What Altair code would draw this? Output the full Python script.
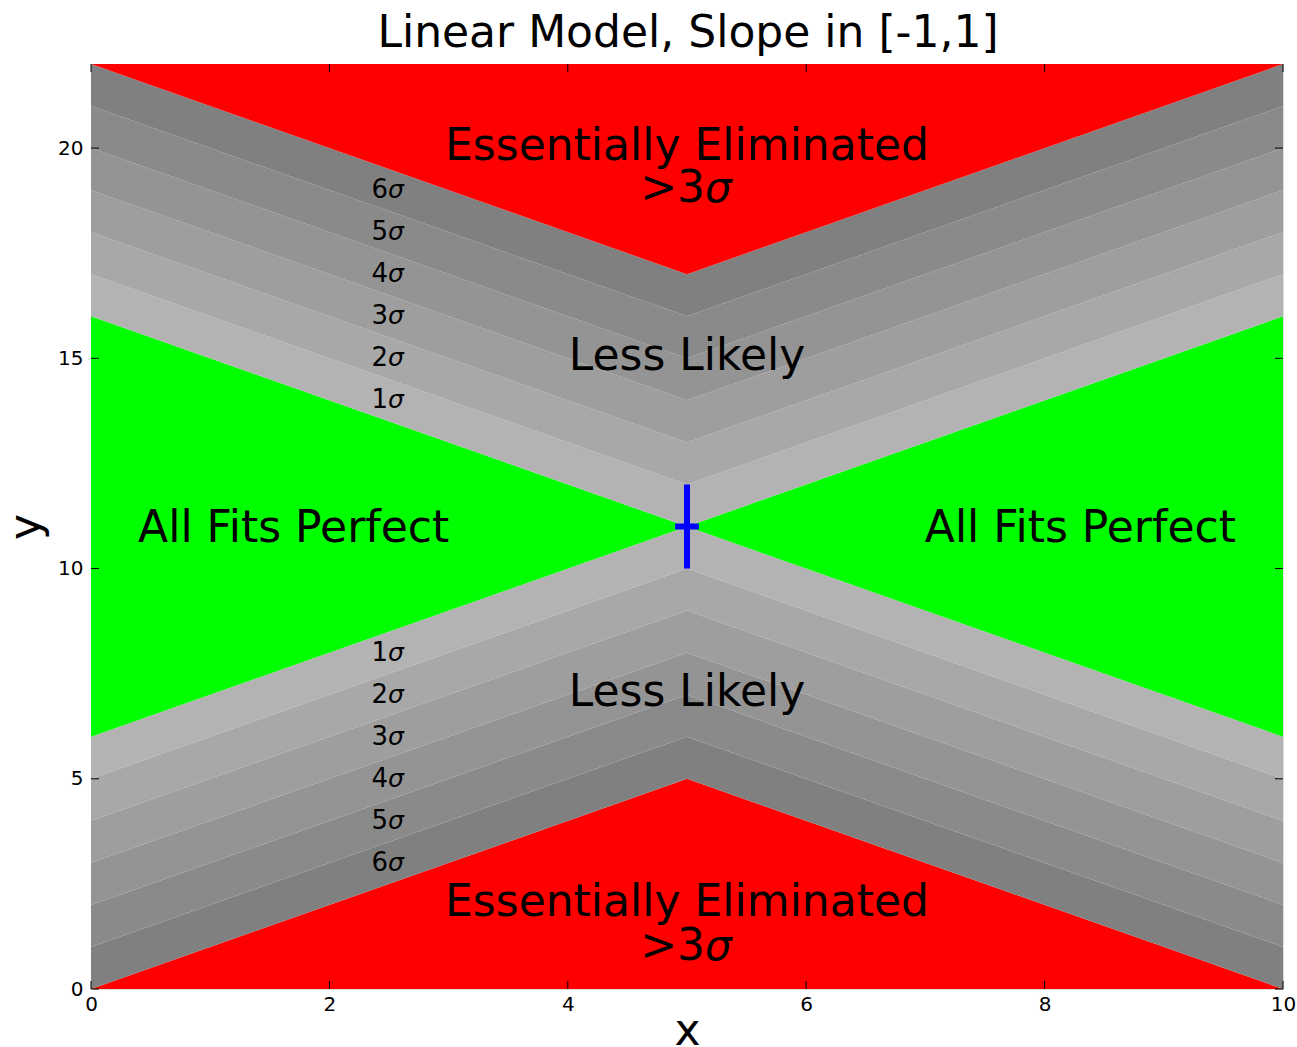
import altair as alt
import pandas as pd

# ---- data -------------------------------------------------------------
title_text = "Linear Model, Slope in [-1,1]"
x_pts = [0, 5, 10]
region_names = ["red_bot", "low6", "low5", "low4", "low3", "low2", "low1", "green",
                "up1", "up2", "up3", "up4", "up5", "up6", "red_top"]
region_colors = ["#ff0000", "#808080", "#8a8a8a", "#949494", "#9e9e9e", "#a8a8a8", "#b3b3b3",
                 "#00ff00",
                 "#b3b3b3", "#a8a8a8", "#9e9e9e", "#949494", "#8a8a8a", "#808080", "#ff0000"]
# region boundaries at x = 0, 5, 10
bounds_x0 = [0, 0, 1, 2, 3, 4, 5, 6, 16, 17, 18, 19, 20, 21, 22, 22]
bounds_x5 = [0, 5, 6, 7, 8, 9, 10, 11, 11, 12, 13, 14, 15, 16, 17, 22]
bounds_x10 = [0, 0, 1, 2, 3, 4, 5, 6, 16, 17, 18, 19, 20, 21, 22, 22]

main_texts = ["Essentially Eliminated", "Less Likely", "All Fits Perfect",
              "All Fits Perfect", "Less Likely", "Essentially Eliminated"]
main_x = [5, 5, 1.7, 8.3, 5, 5]
main_y = [19.71, 14.72, 10.63, 10.63, 6.72, 1.74]

gt_y = [18.72, 0.69]          # ">3σ" rows
sig_nums = ["6", "5", "4", "3", "2", "1", "1", "2", "3", "4", "5", "6"]
sig_y = [19, 18, 17, 16, 15, 14, 8, 7, 6, 5, 4, 3]
sig_x = 2.5

point_x = [5]
point_y = [11]
err_x = [0.1]
err_y = [1]

x_ticks = [0, 2, 4, 6, 8, 10]
y_ticks = [0, 5, 10, 15, 20]

# ---- tables -----------------------------------------------------------
rows = []
bounds = [bounds_x0, bounds_x5, bounds_x10]
for i, name in enumerate(region_names):
    for j, xv in enumerate(x_pts):
        rows.append({"region": name, "order": i, "x": xv,
                     "lo": bounds[j][i], "hi": bounds[j][i + 1]})
regions_df = pd.DataFrame(rows)

W, H = 1192, 925
FONT = "DejaVu Sans"

xs = alt.Scale(domain=[0, 10], nice=False, zero=False)
ys = alt.Scale(domain=[0, 22], nice=False, zero=False)

areas = alt.Chart(regions_df).mark_area(strokeWidth=0).encode(
    x=alt.X("x:Q", scale=xs,
            axis=alt.Axis(values=x_ticks, format="d", title="x", ticks=False, domain=False,
                          grid=False, labelFont=FONT, labelFontSize=20, labelColor="black",
                          labelPadding=5, labelFlush=False, labelOverlap=False,
                          titleFont=FONT, titleFontSize=44, titleFontWeight="normal",
                          titleColor="black", titleBaseline="alphabetic", titleY=55)),
    y=alt.Y("lo:Q", scale=ys, stack=None,
            axis=alt.Axis(values=y_ticks, format="d", title="y", ticks=False, domain=False,
                          grid=False, labelFont=FONT, labelFontSize=20, labelColor="black",
                          labelPadding=8, labelFlush=False, labelOverlap=False,
                          titleFont=FONT, titleFontSize=44, titleFontWeight="normal",
                          titleColor="black", titleBaseline="alphabetic", titleX=-52)),
    y2="hi:Q",
    color=alt.Color("region:N", scale=alt.Scale(domain=region_names, range=region_colors),
                    legend=None),
    detail="region:N",
)

title_df = pd.DataFrame({"t": [title_text]})
title_mark = alt.Chart(title_df).mark_text(font=FONT, fontSize=44, color="black",
                                           baseline="alphabetic", align="center").encode(
    x=alt.value(W / 2 + 1), y=alt.value(-17), text="t:N")

main_df = pd.DataFrame({"t": main_texts, "x": main_x, "y": main_y})
main_text = alt.Chart(main_df).mark_text(font=FONT, fontSize=44, color="black",
                                         baseline="alphabetic", align="center").encode(
    x=alt.X("x:Q", scale=xs), y=alt.Y("y:Q", scale=ys), text="t:N")

gt_df = pd.DataFrame({"x": [5] * len(gt_y), "y": gt_y, "t": [">3"] * len(gt_y),
                      "s": ["σ"] * len(gt_y)})
gt_text = alt.Chart(gt_df).mark_text(font=FONT, fontSize=44, color="black",
                                     baseline="alphabetic", align="right", dx=18).encode(
    x=alt.X("x:Q", scale=xs), y=alt.Y("y:Q", scale=ys), text="t:N")
gt_sig = alt.Chart(gt_df).mark_text(font=FONT, fontSize=42, color="black", fontStyle="italic",
                                    baseline="alphabetic", align="left", dx=18).encode(
    x=alt.X("x:Q", scale=xs), y=alt.Y("y:Q", scale=ys), text="s:N")

sig_df = pd.DataFrame({"x": [sig_x] * len(sig_y), "y": sig_y, "n": sig_nums,
                       "s": ["σ"] * len(sig_y)})
sig_num = alt.Chart(sig_df).mark_text(font=FONT, fontSize=26, color="black",
                                      baseline="middle", align="right", dx=-1).encode(
    x=alt.X("x:Q", scale=xs), y=alt.Y("y:Q", scale=ys), text="n:N")
sig_sym = alt.Chart(sig_df).mark_text(font=FONT, fontSize=25, color="black", fontStyle="italic",
                                      baseline="middle", align="left", dx=-1).encode(
    x=alt.X("x:Q", scale=xs), y=alt.Y("y:Q", scale=ys), text="s:N")

pt_df = pd.DataFrame({"x": point_x, "y": point_y, "ex": err_x, "ey": err_y})
pt_df["x_lo"] = pt_df["x"] - pt_df["ex"]
pt_df["x_hi"] = pt_df["x"] + pt_df["ex"]
pt_df["y_lo"] = pt_df["y"] - pt_df["ey"]
pt_df["y_hi"] = pt_df["y"] + pt_df["ey"]
err_v = alt.Chart(pt_df).mark_rule(color="#0000ff", strokeWidth=6).encode(
    x=alt.X("x:Q", scale=xs), y=alt.Y("y_lo:Q", scale=ys), y2="y_hi:Q")
err_h = alt.Chart(pt_df).mark_rule(color="#0000ff", strokeWidth=6).encode(
    x=alt.X("x_lo:Q", scale=xs), x2="x_hi:Q", y=alt.Y("y:Q", scale=ys))

xt_df = pd.DataFrame({"v": x_ticks})
yt_df = pd.DataFrame({"v": y_ticks})
tick_b = alt.Chart(xt_df).mark_rule(color="black", strokeWidth=1).encode(
    x=alt.X("v:Q", scale=xs), y=alt.value(H), y2=alt.value(H - 8))
tick_t = alt.Chart(xt_df).mark_rule(color="black", strokeWidth=1).encode(
    x=alt.X("v:Q", scale=xs), y=alt.value(0), y2=alt.value(8))
tick_l = alt.Chart(yt_df).mark_rule(color="black", strokeWidth=1).encode(
    y=alt.Y("v:Q", scale=ys), x=alt.value(0), x2=alt.value(8))
tick_r = alt.Chart(yt_df).mark_rule(color="black", strokeWidth=1).encode(
    y=alt.Y("v:Q", scale=ys), x=alt.value(W), x2=alt.value(W - 8))

chart = alt.layer(areas, title_mark, main_text, gt_text, gt_sig, sig_num, sig_sym, err_v, err_h,
                  tick_b, tick_t, tick_l, tick_r).properties(
    width=W, height=H,
    autosize=alt.AutoSizeParams(type="none"),
    padding={"left": 91, "top": 64, "right": 14, "bottom": 58},
).configure_view(stroke="black", strokeWidth=1.5).configure(background="white")

chart.save("out.html", embed_options={"renderer": "svg", "actions": False})
